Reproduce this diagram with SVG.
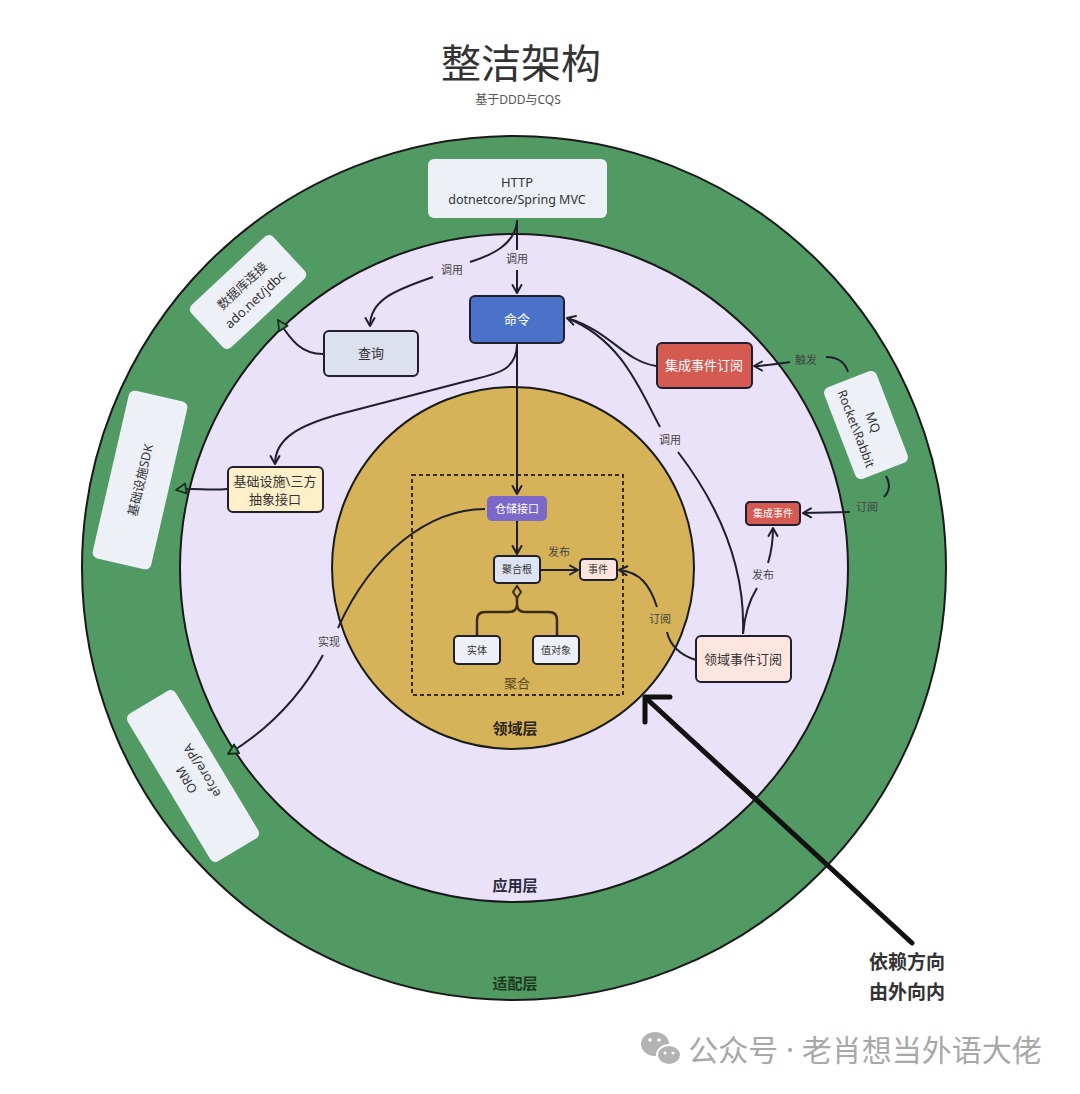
<svg xmlns="http://www.w3.org/2000/svg" width="1080" height="1094" viewBox="0 0 1080 1094">
<style>
text{font-family:"Noto Sans","Noto Sans CJK SC",sans-serif;fill:#333;text-anchor:middle}
.box{stroke:#1f1f2e;stroke-width:2}
.ring{fill:#eef0f8}
.lbl{font-size:11px;fill:#444}
.c{fill:none;stroke:#1f1f2e;stroke-width:2}
.bt{font-size:13px}
.w{fill:#fff}
</style>
<defs>
<marker id="arr" viewBox="0 0 12 12" refX="10" refY="6" markerWidth="12" markerHeight="12" markerUnits="userSpaceOnUse" orient="auto">
<path d="M2,1.5 L10,6 L2,10.5" fill="none" stroke="#1f1f2e" stroke-width="2" stroke-linecap="round" stroke-linejoin="round"/>
</marker>
<marker id="tri" viewBox="0 0 14 14" refX="12" refY="7" markerWidth="14" markerHeight="14" markerUnits="userSpaceOnUse" orient="auto">
<path d="M2,2 L12,7 L2,12 Z" fill="#519a63" stroke="#14301a" stroke-width="1.8" stroke-linejoin="round"/>
</marker>
</defs>
<rect width="1080" height="1094" fill="#fff"/>

<g id="title">
<text x="521" y="78" style="font-size:40px;fill:#333">整洁架构</text>
<text x="518" y="104" style="font-size:12px;fill:#555">基于DDD与CQS</text>
</g>

<g id="layers">
<circle cx="514" cy="568" r="432" fill="#519a63" stroke="#1a1a1a" stroke-width="2"/>
<circle cx="514" cy="568" r="334" fill="#e9e2f8" stroke="#1a1a1a" stroke-width="2"/>
<circle cx="513" cy="568" r="181" fill="#d6b358" stroke="#1a1a1a" stroke-width="2"/>
<rect x="412" y="475" width="211" height="220" fill="none" stroke="#3a2a10" stroke-width="2" stroke-dasharray="4 3"/>
<text x="517" y="688" style="font-size:13px;fill:#5a4a20">聚合</text>
<text x="515" y="734" style="font-size:15px;font-weight:bold;fill:#2a2418">领域层</text>
<text x="515" y="891" style="font-size:15px;font-weight:bold;fill:#2a2a40">应用层</text>
<text x="515" y="989" style="font-size:15px;font-weight:bold;fill:#1e3a1e">适配层</text>
</g>

<g id="connectors">
<path class="c" d="M517,220 L517,250"/>
<text class="lbl" x="517" y="263">调用</text>
<path class="c" d="M517,270 L517,293" marker-end="url(#arr)"/>
<path class="c" d="M517,222 C514,245 492,255 470,262"/>
<text class="lbl" x="452" y="274">调用</text>
<path class="c" d="M433,277 C395,290 370,300 370,326" marker-end="url(#arr)"/>
<path class="c" d="M323,354 C302,354 292,342 278,320" marker-end="url(#tri)"/>
<path class="c" d="M517,343 L517,494" marker-end="url(#arr)"/>
<path class="c" d="M517,345 C516,372 495,374 467,381 L340,414 C300,425 275,438 275,464" marker-end="url(#arr)"/>
<path class="c" d="M227,489 C205,491 195,487 176,490" marker-end="url(#tri)"/>
<path class="c" d="M517,521 L517,554" marker-end="url(#arr)"/>
<path class="c" d="M540,570 L578,570" marker-end="url(#arr)"/>
<text class="lbl" x="559" y="556">发布</text>
<path d="M517,586 L521,592 L517,598 L513,592 Z" fill="#d6b358" stroke="#3a2a10" stroke-width="2"/>
<path d="M517,598 L517,604 Q517,612 509,612 L485,612 Q477,612 477,620 L477,635 M517,604 Q517,612 525,612 L549,612 Q557,612 557,620 L557,635" fill="none" stroke="#3a2a10" stroke-width="2.5"/>
<path class="c" d="M485,509 C430,509 372,552 338,628"/>
<text class="lbl" x="329" y="646">实现</text>
<path class="c" d="M323,655 C300,697 268,730 228,754" marker-end="url(#tri)"/>
<path class="c" d="M656,366 C622,360 612,332 567,318" marker-end="url(#arr)"/>
<path class="c" d="M743,634 C745,580 730,520 678,452"/>
<text class="lbl" x="670" y="444">调用</text>
<path class="c" d="M660,427 C640,390 622,340 567,318"/>
<path class="c" d="M848,372 C845,362 838,357 826,357"/>
<text class="lbl" x="806" y="364">触发</text>
<path class="c" d="M790,362 C775,364 765,366 754,366" marker-end="url(#arr)"/>
<path class="c" d="M886,476 C891,485 889,492 884,497"/>
<text class="lbl" x="867" y="511">订阅</text>
<path class="c" d="M850,512 L803,513" marker-end="url(#arr)"/>
<path class="c" d="M743,634 C745,610 752,596 757,588"/>
<text class="lbl" x="763" y="579">发布</text>
<path class="c" d="M768,563 C772,550 773,540 773,528" marker-end="url(#arr)"/>
<path class="c" d="M696,660 C680,655 670,645 667,632"/>
<text class="lbl" x="660" y="623">订阅</text>
<path class="c" d="M657,607 C650,585 640,572 619,570" marker-end="url(#arr)"/>
<path d="M912,943 L648,700" fill="none" stroke="#111" stroke-width="5" stroke-linecap="round"/>
<path d="M670,697 L645,697 L645,722" fill="none" stroke="#111" stroke-width="5" stroke-linecap="round" stroke-linejoin="round"/>
</g>

<g id="http">
<rect class="ring" x="428" y="159" width="179" height="59" rx="6"/>
<text x="517" y="187" style="font-size:13px">HTTP</text>
<text x="517" y="204" style="font-size:12.5px">dotnetcore/Spring MVC</text>
</g>
<g id="db" transform="translate(248,292) rotate(-43)">
<rect class="ring" x="-56" y="-29" width="112" height="58" rx="6"/>
<text x="0" y="-4" style="font-size:12.5px">数据库连接</text>
<text x="0" y="15" style="font-size:13px">ado.net/jdbc</text>
</g>
<g id="sdk" transform="translate(140,480) rotate(-77)">
<rect class="ring" x="-86" y="-30" width="172" height="60" rx="6"/>
<text x="0" y="5" style="font-size:12.5px">基础设施SDK</text>
</g>
<g id="orm" transform="translate(193,776) rotate(-121)">
<rect class="ring" x="-86" y="-28" width="172" height="56" rx="6"/>
<text x="0" y="-3" style="font-size:12.5px">ORM</text>
<text x="0" y="15" style="font-size:12.5px">efcore/JPA</text>
</g>
<g id="mq" transform="translate(866,425) rotate(69)">
<rect class="ring" x="-49" y="-28" width="98" height="56" rx="6"/>
<text x="0" y="-3" style="font-size:12.5px">MQ</text>
<text x="0" y="15" style="font-size:12.5px">Rocket\Rabbit</text>
</g>

<g id="cmd">
<rect class="box" x="470" y="296" width="94" height="47" rx="5" fill="#4a72c8"/>
<text x="517" y="324" class="bt w">命令</text>
</g>
<g id="query">
<rect class="box" x="324" y="331" width="94" height="45" rx="5" fill="#dde0ee"/>
<text x="371" y="358" class="bt">查询</text>
</g>
<g id="infra">
<rect class="box" x="228" y="467" width="95" height="45" rx="5" fill="#fdf0c8"/>
<text x="275" y="486" class="bt">基础设施\三方</text>
<text x="275" y="504" class="bt">抽象接口</text>
</g>
<g id="ies">
<rect class="box" x="657" y="343" width="95" height="45" rx="5" fill="#d45a52"/>
<text x="704" y="370" class="bt w">集成事件订阅</text>
</g>
<g id="ie">
<rect class="box" x="746" y="502" width="54" height="23" rx="4" fill="#d45a52"/>
<text x="773" y="517" class="w" style="font-size:10px">集成事件</text>
</g>
<g id="des">
<rect class="box" x="696" y="636" width="95" height="46" rx="5" fill="#fde6e0"/>
<text x="743" y="664" class="bt">领域事件订阅</text>
</g>
<g id="repo">
<rect x="487" y="496" width="60" height="25" rx="5" fill="#7b68c8"/>
<text x="517" y="513" class="w" style="font-size:11px">仓储接口</text>
</g>
<g id="root">
<rect class="box" x="494" y="556" width="46" height="27" rx="4" fill="#dde3f0"/>
<text x="517" y="573" style="font-size:10px">聚合根</text>
</g>
<g id="event">
<rect class="box" x="580" y="559" width="37" height="21" rx="4" fill="#fbe5de"/>
<text x="598" y="573" style="font-size:10px">事件</text>
</g>
<g id="entity">
<rect class="box" x="454" y="636" width="46" height="28" rx="4" fill="#eef0f8"/>
<text x="477" y="654" style="font-size:10px">实体</text>
</g>
<g id="vo">
<rect class="box" x="533" y="636" width="46" height="28" rx="4" fill="#eef0f8"/>
<text x="556" y="654" style="font-size:10px">值对象</text>
</g>

<g id="note">
<text x="907" y="969" style="font-size:19px;font-weight:bold;fill:#333">依赖方向</text>
<text x="907" y="999" style="font-size:19px;font-weight:bold;fill:#333">由外向内</text>
</g>

<g id="watermark">
<ellipse cx="655" cy="1044" rx="14" ry="12" fill="#b3b3b3"/>
<ellipse cx="669" cy="1055" rx="12" ry="10" fill="#b3b3b3" stroke="#fff" stroke-width="2"/>
<circle cx="650" cy="1040" r="1.8" fill="#fff"/>
<circle cx="659" cy="1040" r="1.8" fill="#fff"/>
<circle cx="665" cy="1053" r="1.5" fill="#fff"/>
<circle cx="673" cy="1053" r="1.5" fill="#fff"/>
<text x="865" y="1061" style="font-size:30px;fill:#a8a8a8">公众号 · 老肖想当外语大佬</text>
</g>
</svg>
